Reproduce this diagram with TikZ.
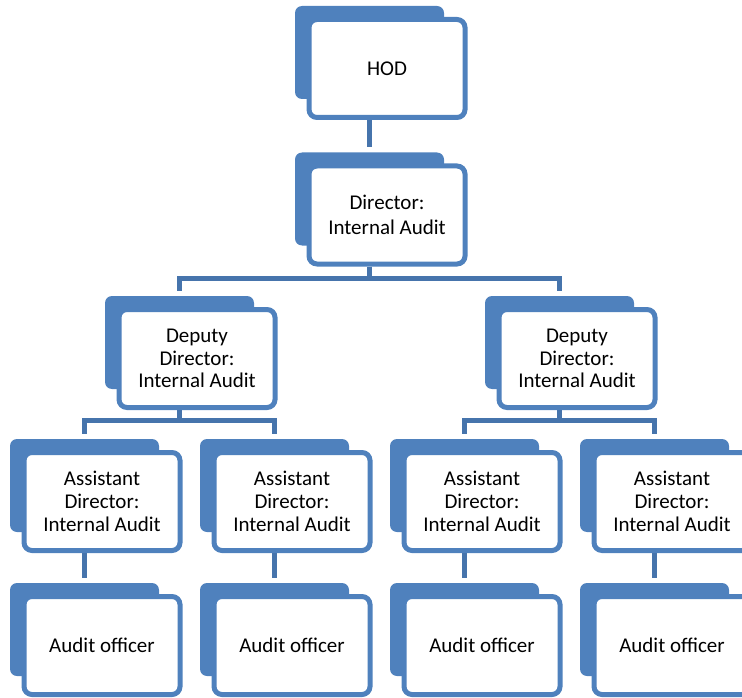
\documentclass[tikz,border=0pt]{standalone}
\usepackage{fontspec}
\setmainfont{Carlito}
\definecolor{boxblue}{HTML}{4F81BD}
\definecolor{linkblue}{HTML}{4674AC}
\tikzset{
  shadowcard/.style={fill=boxblue, rounded corners=7pt, minimum width=149pt,
    minimum height=93pt, inner sep=0pt},
  card/.style={draw=boxblue, line width=5pt, fill=white, rounded corners=8pt,
    minimum width=156pt, minimum height=98pt, inner sep=0pt, align=center,
    font=\fontsize{21pt}{25pt}\selectfont},
  cardthree/.style={card, font=\fontsize{21pt}{22.8pt}\selectfont},
  link/.style={draw=linkblue, line width=5pt, shorten >=5pt},
}
% one org-chart unit: blue backing card plus white front card
\newcommand\orgunit[5][card]{%
  \node[shadowcard] (#2b) at (#3-17.5,#4-16) {};
  \node[#1] (#2) at (#3,#4) {#5};}
\begin{document}
\begin{tikzpicture}[x=1pt,y=-1pt]
\useasboundingbox (0,0) rectangle (742,698);

\orgunit{hod}{387}{68.5}{HOD}
\orgunit{dir}{387}{215}{Director:\\Internal Audit}
\orgunit[cardthree]{depl}{197}{358.5}{Deputy\\Director:\\Internal Audit}
\orgunit[cardthree]{depr}{577}{358.5}{Deputy\\Director:\\Internal Audit}
\orgunit[cardthree]{asa}{102}{501.5}{Assistant\\Director:\\Internal Audit}
\orgunit[cardthree]{asb}{292}{501.5}{Assistant\\Director:\\Internal Audit}
\orgunit[cardthree]{asc}{482}{501.5}{Assistant\\Director:\\Internal Audit}
\orgunit[cardthree]{asd}{672}{501.5}{Assistant\\Director:\\Internal Audit}
\orgunit{offa}{102}{645.5}{Audit officer}
\orgunit{offb}{292}{645.5}{Audit officer}
\orgunit{offc}{482}{645.5}{Audit officer}
\orgunit{offd}{672}{645.5}{Audit officer}

% bus levels of the elbow connectors
\coordinate (dirbus) at (0,278);
\coordinate (depbus) at (0,420);

\draw[link] (hodb.center |- hod.south) -- (dirb.north);

\draw[link] (dirb.center |- dir.south) -- (dirb.center |- dirbus) -| (deplb.north);
\draw[link] (dirb.center |- dir.south) -- (dirb.center |- dirbus) -| (deprb.north);

\draw[link] (deplb.center |- depl.south) -- (deplb.center |- depbus) -| (asab.north);
\draw[link] (deplb.center |- depl.south) -- (deplb.center |- depbus) -| (asbb.north);
\draw[link] (deprb.center |- depr.south) -- (deprb.center |- depbus) -| (ascb.north);
\draw[link] (deprb.center |- depr.south) -- (deprb.center |- depbus) -| (asdb.north);

\draw[link] (asab.center |- asa.south) -- (offab.north);
\draw[link] (asbb.center |- asb.south) -- (offbb.north);
\draw[link] (ascb.center |- asc.south) -- (offcb.north);
\draw[link] (asdb.center |- asd.south) -- (offdb.north);
\end{tikzpicture}
\end{document}
